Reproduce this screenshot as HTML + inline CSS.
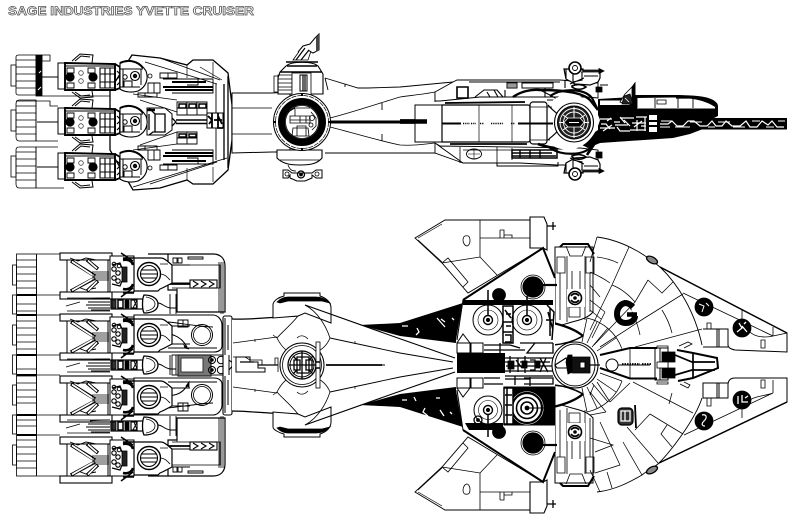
<!DOCTYPE html>
<html><head><meta charset="utf-8"><title>Sage Industries Yvette Cruiser</title>
<style>html,body{margin:0;padding:0;background:#fff}svg{display:block}</style></head>
<body>
<svg xmlns="http://www.w3.org/2000/svg" width="800" height="518" viewBox="0 0 800 518">
<defs>
<!-- top view engine module, centre y=0 -->
<g id="tm">
<rect x="58" y="-14" width="7" height="26" fill="#fff" stroke-width="1"/>
<path d="M65 -14L115 -13V13H65Z" fill="#fff" stroke-width="1.900"/>
<path d="M65 -11H115" stroke-width="1"/>
<path d="M67 -9h7v5h-7zM88 -9h7v5h-7zM67 6h7v5h-7zM88 6h7v5h-7z" stroke-width=".9"/>
<circle cx="70" cy="0" r="4.200" fill="#000"/><circle cx="93" cy="0" r="4.200" fill="#000"/>
<circle cx="81" cy="-4" r="2.300" stroke="#444"/><circle cx="81" cy="4" r="2.300" stroke="#444"/>
<path d="M72 -16L80 -23L93 -22L92 -14M75 -16L81 -21L90 -20M72 15L80 21L93 20L92 14M75 15L81 19L90 18" stroke-width="1"/>
<path d="M100 -9h15v20h-15zM105 -9v20M110 -9v20M100 -3h15M100 5h15" stroke-width="1.100"/>
<path d="M115 -13L120 -10V11L115 13" stroke-width="1.800"/>
<path d="M117 -6L121 -2L117 2M117 8L121 4" stroke-width="1.200"/>
<path d="M120 -14C128 -18 140 -16 146 -6C149 2 146 10 138 14C132 16 124 15 120 12Z" fill="#fff" stroke-width="1.100"/>
<path d="M120 -14C128 -18 138 -16 143 -9" stroke-width="2"/>
<path d="M120 -8H143M120 10H140M123 -8V10M141 -8V8" stroke-width="1"/>
<circle cx="135" cy="-1" r="4.500" stroke-width="1.100"/>
<circle cx="135" cy="-1" r="1.800" fill="#111"/>
<circle cx="125" cy="0" r="2.200" stroke-width="1"/>
<path d="M124 4H132V10H124Z" stroke-width="1"/>
</g>
<!-- bottom view big module, centre y=0 -->
<g id="bm">
<rect x="60" y="-20" width="52" height="7" fill="#fff" stroke-width="1.100"/>
<rect x="60" y="19" width="52" height="7" fill="#fff" stroke-width="1.100"/>
<path d="M67 -13H108V19H67Z" fill="#fff" stroke-width="1"/>
<path d="M70 -15L78 -12L86 -15L96 -13M70 17L78 14L86 17L96 15" stroke-width=".9"/>
<path d="M71 -12L95 3M71 18L95 5M87 -13L98 -4M87 18L98 8" stroke="#000" stroke-width="3.400"/>
<path d="M72 -11.500L94 3M72 17.500L94 5M88 -12.500L97 -4.500M88 17.500L97 8.500" stroke="#fff" stroke-width="1.700"/>
<path d="M92 -1H109M92 1H109M92 3H109M92 5H109M92 7H109" stroke-width=".7"/>
<rect x="110" y="-17" width="24" height="36" fill="#fff" stroke-width="1"/>
<path d="M121 -20L133 -12M121 24L133 15M123 -15H134M123 20H134" stroke-width="1.500"/>
<rect x="122" y="-6" width="5" height="15" fill="#222"/>
<path d="M112 -8L120 -10L122 -5M112 11L120 13L122 8" stroke-width="1.200"/>
<circle cx="114" cy="-4" r="2.200" stroke-width="1.100"/><circle cx="118" cy="0" r="2.200" stroke-width="1.100"/><circle cx="114" cy="5" r="2.200" stroke-width="1.100"/><circle cx="118" cy="8" r="2.200" stroke-width="1.100"/><circle cx="114" cy="-9" r="1.800" stroke-width="1"/><circle cx="119" cy="-7" r="1.800" stroke-width="1"/>
<path d="M123 -13C128 -14 132 -12 133 -8M123 16C128 17 132 15 133 11" stroke-width="2.600"/>
<path d="M134 -15H161C165 -15 168 -11 172 -8V10C168 12 165 14 160 16L158 18H134Z" fill="#fff" stroke-width="1.200"/>
<path d="M172 -8H190M172 10H190" stroke-width=".9"/>
<circle cx="149" cy="1" r="11.500" stroke-width="1.400"/>
<circle cx="149" cy="1" r="8.500" stroke-width="1.100"/>
<path d="M141.500 -3H156.500M140.500 1H157.500M141.500 5H156.500" stroke-width=".9"/>
<path d="M160 -9H168M160 1C165 1 167 4 170 7" stroke-width=".8"/>
</g>
<!-- bottom view narrow module, centre y=0 -->
<g id="sm">
<path d="M67 -6H110M67 7H110" stroke-width=".8"/>
<path d="M90 -5C96 -6 102 -6 110 -6M88 -2H110M86 1H110M88 4H110M91 6H110" stroke-width=".9"/>
<path d="M80 -2L66 2" stroke-width=".7"/>
<rect x="111" y="-5" width="36" height="10" fill="#fff" stroke-width="1.200"/>
<rect x="112" y="-4" width="4" height="8" fill="#333"/>
<rect x="118" y="-4" width="5" height="8" stroke-width="1.500"/>
<rect x="125" y="-4" width="4" height="8" fill="#000"/>
<rect x="131" y="-4" width="6" height="8" stroke-width="1.200"/>
<path d="M134 -4L137 4M133 4L137 -4" stroke-width=".9"/>
<path d="M144 -9C154 -9 158 -4 158 0C158 5 154 9 144 9C142 5 142 -5 144 -9Z" fill="#fff" stroke-width="1.300"/>
<path d="M146 -7C152 -6 155 -3 155 0C155 3 152 6 146 7" stroke-width=".8"/>
<path d="M158 -1C162 -1 164 3 170 4" stroke-width=".9"/>
<path d="M170 -10V10M176 -10V10M170 4H176" stroke-width=".9"/>
</g>
<!-- upper half of bottom-view forward section -->
<g id="half">
<!-- mid panel -->
<path d="M555 247H593V312C588 318 580 320 572 322L555 327Z" fill="#fff" stroke-width="1"/>
<path d="M560 247L563 244H588L594 254" stroke-width="2"/>
<path d="M566 246L570 256H582L586 246" stroke-width=".8"/>
<path d="M557 257H565V273H557ZM586 257H594V273H586ZM560 273V320M567 256V322M572 271V290M580 271V290M585 256V320M590 273V312" stroke-width=".8"/>
<path d="M569 307H580V317H569Z" stroke-width=".8"/>
<rect x="567" y="289" width="18" height="18" fill="#fff" stroke="none"/>
<circle cx="575" cy="298" r="6.500" stroke-width="1.600"/>
<path d="M571 296C573 293 577 293 579 296M579 300C577 303 573 303 571 300" stroke-width="1.800"/>
<circle cx="575" cy="298" r="1.400" fill="#000"/>
<!-- wedge on hull -->
<path d="M553 323C566 326 576 330 583 336C576 340 565 344 553 346Z" fill="#fff" stroke="none"/>
<path d="M553 323C566 326 576 330 583 336" stroke-width="2.400"/>
<path d="M553 345C566 344 576 340 583 336" stroke-width="1.400"/>
<!-- rear wing -->
<path d="M415 238L445 220H530V247L543 248L468 293L442 263Z" fill="#fff" stroke-width=".9"/>
<path d="M418 238L442 224M418 240L442 262" stroke-width=".7"/>
<path d="M480 220V257M480 238H530M442 263L480 257L497 275M442 263L448 258L468 282L463 287" stroke-width=".8"/>
<path d="M465 236C469 235 470 237 470 241C470 244 468 246 467 246C465 246 463 243 463 240C463 238 464 236 465 236Z"/>
<path d="M500 230V238M500 230H504V238M504 235H512V238" stroke-width=".8"/>
<path d="M530 217H544L547 224V250L543 248H530Z" fill="#fff" stroke-width="1.100"/>
<path d="M547 226H556M553 222V230" stroke-width="1.300"/>
<!-- central hexagon top -->
<path d="M463 300L543 248L555 278V365H458V355L456 340Z" fill="#fff" stroke="none"/>
<path d="M463 300L543 248L555 278" stroke-width="2"/>
<path d="M463 300L457 340" stroke-width="1"/>
<circle cx="533" cy="287" r="12" fill="#fff" stroke-width=".8"/>
<circle cx="533" cy="287" r="10.200" fill="#000"/>
<path d="M543 285H557" stroke-width="2.200"/>
</g>
</defs>
<rect width="800" height="518" fill="#fff"/>

<text x="8" y="15" font-family="'Liberation Sans',sans-serif" font-size="11.500" font-weight="bold" fill="#fff" stroke="#555" stroke-width=".7" textLength="246" lengthAdjust="spacingAndGlyphs">SAGE INDUSTRIES YVETTE CRUISER</text>

<g fill="none" stroke="#000" stroke-width=".8">

<!-- ============ TOP VIEW ============ -->
<g stroke-width=".8">
<path d="M16 57C16 56 17 55 19 55H36V95H18C17 95 16 94 16 93ZM16 60H36M16 67H36M16 74H36M16 81H36M16 88H36"/>
<rect x="11" y="65" width="5" height="21"/>
<rect x="36" y="55" width="6" height="41" fill="#000"/>
<path d="M39 73L41 71M38 90L41 87" stroke="#fff" stroke-width="1"/>
<path d="M19 100H36V141H19C17 141 16 139 16 137V104C16 102 17 100 19 100ZM16 106H36M16 113H36M16 120H36M16 127H36M16 134H36"/>
<rect x="11" y="110" width="5" height="21"/>
<path d="M36 100V141M16 101H50V106H58M36 141H58"/>
<path d="M19 147H36V188H19C17 188 16 186 16 184V150C16 148 17 147 19 147ZM16 152H36M16 159H36M16 166H36M16 173H36M16 180H36"/>
<rect x="11" y="156" width="5" height="21"/>
<path d="M36 147V188"/>
<path d="M42 55H50V61H42ZM42 96H120M36 147H58M36 188H64"/>
<path d="M42 77H58M37 122H58M37 167H58" stroke-width="1.100"/>
</g>
<!-- hull back -->
<path d="M132 55L160 58L187 65L193 60H213L228 73L232 105V140L228 170L213 184H193L187 180L160 188L133 190L110 150V90Z" fill="#fff" stroke-width="1.300"/>
<path d="M160 58L220 80M145 62L217 84M133 187L227 158M150 184L217 162" stroke-width=".9"/>
<path d="M187 65V78M213 62V78M187 180V168M213 182V167M200 67L222 80" stroke-width=".7"/>
<path d="M224 84V160M228 76V168" stroke-width="1.300"/>
<path d="M216 84V160" stroke-width=".9"/>
<!-- top module details -->
<path d="M148 83H160V93H148ZM154 83V93M160 73H177V78H160ZM168 73V78M163 79H213V93H172M187 79H198V85H187M138 93H157V97H138ZM145 93V97" stroke-width=".9"/>
<path d="M163 87H213M165 90H213M172 82H206" stroke-width="1.900"/>
<circle cx="150" cy="76" r="2"/>
<path d="M148 150H160V160H148ZM154 150V160M160 165H177V170H160ZM168 165V170M163 164H213V150H172M187 158H198V164H187M138 146H157V150H138ZM145 146V150" stroke-width=".9"/>
<path d="M163 156H213M165 153H213M172 161H206" stroke-width="1.900"/>
<circle cx="150" cy="168" r="2"/>
<!-- middle hull details -->
<path d="M177 102H207V115H177ZM187 102V115M197 102V115M177 108H207" stroke-width=".9"/>
<path d="M179 104H186V108H179ZM189 104H196V108H189ZM199 104H206V108H199Z" stroke-width="1.500"/>
<path d="M177 132H197V144H177ZM187 132V144M177 138H197" stroke-width=".9"/>
<path d="M179 134H186V137H179ZM189 134H196V137H189Z" stroke-width="1.400"/>
<path d="M147 108H165L172 114V130L165 135H147Z" fill="#fff" stroke-width="1"/>
<path d="M149 108L155 114H165V132H153L149 135M155 114V132M149 114V130M172 118L176 122L172 126" stroke-width="1.300"/>
<path d="M147 110H155" stroke-width="2.400"/>
<path d="M176 120H207M176 123.500H207" stroke-width="1.500"/>
<rect x="207" y="113" width="16" height="15" fill="#fff" stroke-width="1"/>
<path d="M208 116L212 120L209 124M212 113V128M218 113V128H223M214 120H222M218 116L222 124" stroke-width="1.800"/>
<path d="M140 100L177 112M140 145L177 132" stroke-width=".7"/>
<path d="M133 94L177 100M133 150L177 144" stroke-width=".7"/>
<use href="#tm" y="77"/><use href="#tm" y="122"/><use href="#tm" y="167"/>

<!-- fuselage -->
<path d="M232 93H272L290 92V152H272L232 153Z" fill="#fff" stroke-width="1"/>
<path d="M232 108H272M232 134H272" stroke-width=".8"/>
<path d="M330 118C350 113 380 103 400 97C415 95 425 94 435 92" stroke-width=".8"/>
<path d="M330 127C350 132 380 141 400 145C415 146 425 144 435 143" stroke-width=".8"/>
<path d="M325 78L358 88H368L400 87L453 82M435 92V102M435 143V153L463 163M325 153H400L435 153M328 90L325 78M345 84V87M382 103V110M382 141V134" stroke-width=".9"/>
<path d="M330 122H400" stroke-width="3"/>
<path d="M400 121.500H427" stroke-width="4.500"/>
<!-- dorsal dome & dish -->
<path d="M280 72L286 66C292 61 312 61 318 66L323 74V94H278V78Z" fill="#fff" stroke-width="1.100"/>
<path d="M280 72H322M287 66H317M286 62H318" stroke-width="1.400"/>
<path d="M278 75H292V90H278ZM274 76H278V92H274ZM278 79H292M278 83H292M278 87H292" stroke-width=".8"/>
<rect x="292" y="73" width="19" height="22" fill="#fff" stroke-width=".8"/>
<rect x="300" y="75" width="7" height="16" stroke-width="1"/>
<path d="M303 75V91M305 75V91" stroke-width="1.200"/>
<path d="M293 60L303 46L312 48L308 60H300Z" fill="#fff"/>
<path d="M298 52L303 46L310 44L315 38L319 34V50L313 53L308 50" fill="#fff" stroke-width="1"/>
<path d="M296 60L305 48M301 60L309 50" stroke-width="1.200"/>
<path d="M316 38L319 34V50L316 52Z" fill="#444" stroke="none"/>
<!-- ventral turret -->
<path d="M277 150H322V158C318 163 312 165 300 165C288 165 282 163 277 158Z" fill="#fff" stroke-width="1.100"/>
<path d="M280 160H320M288 165C290 170 292 171 296 171" stroke-width=".8"/>
<path d="M283 170H288L292 173H312L316 170H322V178H316L312 175V178L305 181H297L290 178V175L288 178H283Z" fill="#fff" stroke-width="1"/>
<circle cx="301" cy="174.500" r="3.500" stroke-width="1.300"/>
<circle cx="301" cy="174.500" r="1.500" fill="#000"/>
<circle cx="287" cy="174" r="2"/><circle cx="317" cy="174" r="2"/>
<!-- main ring -->
<circle cx="302" cy="122" r="28.500" fill="#fff" stroke-width="1"/>
<circle cx="302" cy="122" r="26.500" stroke-width=".7" stroke-dasharray="5 1"/>
<circle cx="302" cy="122" r="20.500" stroke-width="7"/>
<circle cx="302" cy="122" r="16.500" fill="#fff" stroke-width=".8"/>
<path d="M290 116H310V123H290ZM293 128H308L309 136H292ZM296 108H310M288 112L295 108M311 112L316 118L316 126L312 130M297 126H306V136H297ZM300 116V123M306 116V123M290 120H310M295 106V116" stroke-width=".8"/>
<circle cx="312" cy="118" r="2.500"/><circle cx="311" cy="125" r="2"/>
<path d="M302 94V96M302 148V150M274 122H276M328 122H330" stroke-width="2"/>

<!-- main central body -->
<rect x="415" y="105" width="27" height="37" fill="#fff" stroke-width="1"/>
<path d="M400 121.500H427" stroke-width="4.500"/>
<path d="M442 105H528C530 105 530 107 530 107V140C530 142 528 142 528 142H442Z" fill="#fff" stroke-width="1.200"/>
<path d="M479 105V142M512 105V142" stroke-width=".7"/>
<path d="M445 103L525 102M450 144L527 144" stroke-width="1.800"/>
<rect x="530" y="102" width="17" height="42" rx="3" fill="#fff" stroke-width="1.200"/>
<path d="M530 107H552M530 140H550" stroke-width=".8"/>
<path d="M442 123.500H461M518 123.500H555" stroke-width="2"/>
<path d="M463 123.500H470M471 123.500H476M480 123.500H484M491 123.500H503M511 123.500H515" stroke-width="1.600" stroke-dasharray="1 .8"/>
<!-- upper structure -->
<path d="M435 92L453 82L457 80H560L598 83V98L587 97H480L440 101H435Z" fill="#fff" stroke-width=".9"/>
<path d="M457 87H468V98H457Z" stroke-width="1.600"/>
<path d="M507 83H517V88H507ZM522 83H553V88H522Z" stroke-width="1"/>
<path d="M507 83H517V88H507Z" fill="#999"/>
<path d="M475 97L484 90H497L503 97M487 92L490 97M494 90L498 97M505 90V97M545 88V97M565 88V80M469 82H560" stroke-width="1.100"/>
<path d="M513 97C520 92 530 89 540 90C560 90 582 92 590 100L598 110" stroke-width="2.400"/>
<path d="M540 90C550 95 560 100 565 106M547 100H565" stroke-width="1"/>
<!-- lower structure -->
<path d="M435 143L463 163H520L557 165H598V150L580 148L440 146Z" fill="#fff" stroke-width=".9"/>
<path d="M460 147V163M463 150H512M497 147V163M512 148V160" stroke-width=".8"/>
<ellipse cx="474" cy="154" rx="7.500" ry="5" stroke-width=".9"/>
<path d="M468 154H480M474 149V159" stroke-width=".6"/>
<path d="M512 150H557V158H512Z" stroke-width="1.500"/>
<path d="M512 153H552M512 156H556M520 150V158M530 150V158M540 150V158" stroke-width="1.400"/>
<path d="M497 163V166H558V162" stroke-width="1"/>
<path d="M538 144C560 152 575 148 598 138M587 155C590 150 594 145 598 138" stroke-width="2.600"/>
<!-- front turrets -->
<path d="M564 69H583V71H600V78L598 82L590 85L575 84L566 79Z" fill="#fff" stroke-width="1.200"/>
<path d="M566 69V79M573 69V82L582 80V72M584 76H598M570 84L584 78" stroke-width="1.100"/>
<circle cx="575" cy="68" r="6" fill="#fff" stroke-width="1.600"/>
<circle cx="575" cy="68" r="2.500" stroke-width=".9"/>
<path d="M581 70H599M581 72H599" stroke-width=".8"/>
<path d="M599 68.500L604 71L599 73.500Z" fill="#000"/>
<path d="M572 86C576 84 582 84 586 87C582 90 576 90 572 87Z" stroke-width="1.600"/>
<path d="M596 87H602V92H596Z" fill="#000"/><path d="M600 85H608" stroke-width="1"/>
<path d="M564 173H583V171H600V164L598 160L590 157L575 158L566 163Z" fill="#fff" stroke-width="1.200"/>
<path d="M566 173V163M573 173V160L582 162V170M584 166H598M570 158L584 164" stroke-width="1.100"/>
<circle cx="575" cy="174" r="6" fill="#fff" stroke-width="1.600"/>
<circle cx="575" cy="174" r="2.500" stroke-width=".9"/>
<path d="M581 170H599M581 172H599" stroke-width=".8"/>
<path d="M599 168.500L604 171L599 173.500Z" fill="#000"/>
<path d="M572 156C576 154 582 154 586 157C582 160 576 160 572 157Z" stroke-width="1.600"/>
<path d="M596 152H602V158H596Z" fill="#000"/>
<!-- nose -->
<path d="M598 99L633 97L633 95H673C690 95 705 96 711 99C716 101 718 104 718 106V116L712 119L703 129L690 134L673 138L600 143L588 148L578 143L598 130Z" fill="#000" stroke="none"/>
<path d="M600 100.500H622L630 105H600ZM637 98L672 97.500C690 97.500 705 100 715 107L715 108.500H637Z" fill="#fff" stroke="none"/>
<path d="M637 98V108M655 98V108M678 98V108M693 98.500V108" stroke-width=".9"/>
<path d="M657 100H666V104H657Z" stroke-width=".8"/>
<path d="M676 98H700" stroke-width="1.300"/>
<!-- fin -->
<path d="M620 102L625 94L633 86L635 83V104H625Z" fill="#fff"/>
<path d="M632 87L635 83V104H632Z" fill="#000"/>
<path d="M622 104L624 96L630 94L633 104Z" fill="#222"/>
<path d="M625 98L629 102" stroke="#fff"/>
<!-- white details on nose -->
<path d="M600 119H612M614 122H620M620 118H634M636 117H647M600 128H615M615 125H628M632 123H646M603 131L612 125M620 117L625 123M630 130H646M637 120V131M645 117V131M601 124H606L610 129M617 127L620 131H630M624 120L630 126M607 121L611 118M634 127L642 121M641 126H646" stroke="#fff" stroke-width="1.200"/>
<path d="M649 115H657V120H649ZM649 127H657V132H649ZM649 122H657V125H649Z" fill="#fff" stroke="none"/>
<!-- barrel -->
<rect x="658" y="118" width="129" height="11.500" fill="#000" stroke="none"/>
<path d="M660 124H668L672 121L677 126H683L688 121H694L700 126H707L712 121L716 126H722L726 121L732 126H740L746 121L750 127H757L762 121L768 125L772 121L777 127H784" stroke="#fff" stroke-width="1.200"/>
<path d="M661 121H672M690 122H702M718 122H730M752 121H760M675 127H690M708 127H715M733 127H745M660 127H670M766 127H774M778 121H785" stroke="#fff" stroke-width="1"/>
<!-- front disc -->
<path d="M553 100C570 88 592 96 600 120C592 148 570 155 553 146Z" fill="#fff" stroke="none"/>
<path d="M550 96C562 88 584 88 592 98L598 110" stroke-width="2.200"/>
<path d="M550 148C562 156 584 156 592 146L598 134" stroke-width="2.200"/>
<path d="M548 105C552 110 556 112 558 115M548 140C552 136 556 134 558 130" stroke-width="1.200"/>
<circle cx="574" cy="122.500" r="19.500" fill="#fff" stroke-width="1.100"/>
<circle cx="574" cy="122.500" r="16.500" fill="#222" stroke-width="1"/>
<circle cx="574" cy="122.500" r="14" stroke="#fff" stroke-width=".9"/>
<circle cx="574" cy="122.500" r="10.500" stroke="#fff" stroke-width=".9"/>
<path d="M563 115L585 130M585 115L563 130M574 107V138M559 122.500H589" stroke="#fff" stroke-width="1"/>
<path d="M568 118H580L584 122.500L580 127H568L564 122.500Z" fill="#000" stroke="#fff" stroke-width=".7"/>
<path d="M569 122.500H579" stroke="#fff" stroke-width="1"/>

<!-- ============ BOTTOM VIEW ============ -->
<g stroke-width=".8">
<rect x="16.500" y="254" width="20" height="222" fill="#fff"/>
<path d="M16 260H36M16 267H36M16 274H36M16 281H36M16 288H36M16 304H36M16 311H36M16 321H36M16 328H36M16 335H36M16 342H36M16 349H36M16 369H36M16 376H36M16 383H36M16 390H36M16 397H36M16 403H36M16 420H36M16 426H36M16 440H36M16 447H36M16 454H36M16 461H36M16 468H36"/>
<path d="M17 295H36M17 315H36M17 355H36M17 375H36M17 415H36M17 435H36" stroke-width="2"/>
<rect x="12.500" y="265" width="4" height="20"/><rect x="12.500" y="295" width="4" height="19"/>
<rect x="12.500" y="325" width="4" height="20"/><rect x="12.500" y="355" width="4" height="19"/>
<rect x="12.500" y="385" width="4" height="20"/><rect x="12.500" y="415" width="4" height="19"/>
<rect x="12.500" y="445" width="4" height="20"/>
<path d="M36.500 254V476M37 254H60M37 295H60M37 315H60M37 355H60M37 375H60M37 415H60M37 435H60M37 476H60"/>
</g>
<!-- big module extension bodies -->
<path d="M148 254H213C220 254 225 258 225 266V312H177V290H168V254Z" fill="#fff" stroke-width="1.200"/>
<path d="M172 265H220V288H172M177 288V312M219 262V312M221 262V314M223 262V314" stroke-width=".8"/>
<path d="M173 258H177V263H173ZM178 258H182V263H178ZM188 257H203V259H188Z" stroke-width=".9"/>
<rect x="190" y="280" width="27" height="8" stroke-width="1.100"/>
<path d="M193 281L198 284L193 287M201 281L206 284L201 287M209 281L214 284L209 287" stroke-width="1.100"/>
<path d="M168 284H190" stroke-width="1.700"/>
<path d="M148 476H213C220 476 225 472 225 464V418H177V440H168V476Z" fill="#fff" stroke-width="1.200"/>
<path d="M172 465H220V442H172M177 442V418M219 468V418M221 468V416M223 468V416" stroke-width=".8"/>
<path d="M173 467H177V472H173ZM178 467H182V472H178ZM188 471H203V473H188Z" stroke-width=".9"/>
<rect x="190" y="442" width="27" height="8" stroke-width="1.100"/>
<path d="M193 443L198 446L193 449M201 443L206 446L201 449M209 443L214 446L209 449" stroke-width="1.100"/>
<path d="M168 446H190" stroke-width="1.700"/>
<!-- mid bodies -->
<path d="M134 315H213C218 315 222 320 222 325V346C222 350 218 352 214 352H134Z" fill="#fff" stroke-width="1.100"/>
<path d="M168 322C180 323 195 326 213 327M178 320H188V327H178ZM183 320V327M168 348H217" stroke-width=".9"/>
<circle cx="202" cy="335" r="10.500" stroke-width="1"/><circle cx="202" cy="335" r="8.500"/>
<path d="M160 334C168 333 180 334 187 347" stroke-width="1.100"/>
<path d="M184 345L189 349L185 348Z" fill="#000"/>
<path d="M134 378H214C218 378 222 380 222 384V405C222 410 218 415 213 415H134Z" fill="#fff" stroke-width="1.100"/>
<path d="M168 408C180 407 195 404 213 403M178 403H188V411H178ZM183 403V411M168 382H217" stroke-width=".9"/>
<circle cx="202" cy="395" r="10.500" stroke-width="1"/><circle cx="202" cy="395" r="8.500"/>
<path d="M160 396C172 396 182 396 188 384" stroke-width="1.100"/>
<path d="M186 386L189 382L189 387Z" fill="#000"/>
<!-- centre panel -->
<rect x="172" y="355" width="56" height="20" fill="#fff" stroke-width=".9"/>
<rect x="178" y="355" width="33" height="21" fill="#777" stroke="#222" stroke-width="1.200"/>
<rect x="181" y="358" width="22" height="14" fill="#fff" stroke="#333" stroke-width="1"/>
<circle cx="212" cy="360" r="3.500" stroke-width="1"/><circle cx="212" cy="370" r="3.500" stroke-width="1"/>
<circle cx="221" cy="360" r="3.700" stroke-width="1"/><circle cx="221" cy="370" r="3.700" stroke-width="1"/>
<circle cx="212" cy="360" r="1.300" fill="#000"/><circle cx="212" cy="370" r="1.300" fill="#000"/>
<use href="#bm" y="273"/><use href="#bm" y="334"/><use href="#bm" y="396"/><use href="#bm" y="457"/>
<use href="#sm" y="304"/><use href="#sm" y="365"/><use href="#sm" y="426"/>
<rect x="223" y="316" width="9" height="99" rx="2" fill="#fff" stroke-width="1.100"/>
<path d="M225 318V355M228 325V350M225 376V413M228 380V405" stroke-width="1"/>
<path d="M229 355V375M229 360L234 364L229 370" stroke-width="1"/>

<!-- hull -->
<path d="M232 319H260L298 316L305 305L395 337L455 358V372L395 393L305 425L298 414L260 411L232 411Z" fill="#fff" stroke="none"/>
<path d="M232 319C250 320 270 317 298 316M232 411C250 411 270 414 298 414" stroke-width="1.200"/>
<path d="M233 343L277 337M233 387L277 393M233 357H245L250 360H262V365H275V358H278V372" stroke-width=".8"/>
<path d="M236 357H250V362H258V368H265V372H236Z" stroke-width="1"/>
<path d="M240 362H254M258 365H278" stroke-width="1.200"/>
<path d="M298 316C290 326 282 332 277 338C282 348 288 352 292 354M298 414C290 404 282 398 277 392C282 382 288 378 292 376" stroke-width=".8"/>
<path d="M277 338L273 335M277 392L273 395M255 339V342M255 389V392" stroke-width=".7"/>
<!-- cross hull sections -->
<path d="M273 305C273 300 280 297 284 296V293H320V296C326 298 331 302 331 308V323L305 313L298 316L273 318Z" fill="#fff" stroke-width="1"/>
<path d="M277 302C282 297 286 297 288 297H316C322 297 326 299 330 303L322 301H288L280 303Z" fill="#000"/>
<path d="M273 427C273 430 280 433 284 434V437H320V434C326 432 331 428 331 422V407L305 417L298 414L273 412Z" fill="#fff" stroke-width="1"/>
<path d="M277 428C282 433 286 433 288 433H316C322 433 326 431 330 427L322 429H288L280 427Z" fill="#000"/>
<path d="M305 305L395 337L455 358" stroke-width="1.100"/>
<path d="M305 425L395 393L455 372" stroke-width="1.100"/>
<path d="M305 305C318 312 326 326 330 338C326 348 318 352 312 354M305 425C318 418 326 404 330 392C326 382 318 378 312 376" stroke-width=".8"/>
<path d="M330 338L400 353L453 362M330 392L400 377L453 368" stroke-width=".9"/>
<path d="M355 341V344M355 389V386" stroke-width=".7"/>
<!-- black wedges -->
<path d="M360 325L400 323L463 303L456 343L400 336Z" fill="#000" stroke="none"/>
<path d="M360 405L400 407L463 427L456 387L400 394Z" fill="#000" stroke="none"/>
<g stroke="#fff" stroke-width="1.300">
<path d="M437 318L445 327M417 328L419 332L416 335M402 326H408M452 318L454 320M445 322L441 319"/>
<path d="M425 408L423 412L428 416M402 400H407M436 398H440M450 412L452 414M440 410L444 416M416 401L414 397"/>
</g>
<!-- tail centre -->
<circle cx="302" cy="365" r="22" fill="#fff" stroke-width="1"/>
<circle cx="302" cy="365" r="19.500" stroke-width=".8"/>
<circle cx="302" cy="365" r="14" stroke-width="1.300"/>
<circle cx="302" cy="365" r="12" stroke-width=".9"/>
<path d="M297 357H309V373H297ZM294 360H300V370H294ZM306 360H312V370H306ZM302 351V379M289 365H316M293 356L297 360M313 356L309 360M293 374L297 370M313 374L309 370" stroke-width="1.300"/>
<rect x="316" y="342" width="4" height="46" fill="#fff"/>
<path d="M316 362H320M316 368H320" stroke-width="1.500"/>
<path d="M326 365H382" stroke-width="1.800"/>
<path d="M382 365H385" stroke-width="1"/>
<path d="M297 338C300 335 304 335 308 339M297 392C300 395 304 395 308 391" stroke-width=".8"/>

<!-- forward section -->
<use href="#half"/>
<use href="#half" transform="matrix(1 0 0 -1 0 730)"/>

<!-- fan disc, upper -->
<path d="M597 237C620 240 642 252 660 267C678 284 695 312 702 345" stroke-width=".9"/>
<path d="M660 267L787 333V352L735 350C730 349 728 347 728 345V329H703M728 347H703M717 329V347M719 329V347" stroke-width="1"/>
<path d="M660 267L787 333" stroke-width="1.400"/>
<path d="M683 293L773 336M773 327V336L787 333M750 332C755 337 765 338 773 336M742 310V320M707 329V323H711V329" stroke-width=".8"/>
<path d="M761 340H765V348H761Z" stroke-width=".8"/>
<path d="M597 237L590 262M629 247L612 285L590 330M597 257C605 258 612 260 618 263M590 272C597 275 603 278 610 283M612 285C620 288 628 294 635 302M648 280L662 293L673 282M648 280L635 302L594 345M683 294L643 319L600 347M662 310C667 318 670 325 672 333M702 329L635 347M627 302C633 312 638 325 640 335M590 300L605 312M590 310L601 319M605 312L592 338M590 285L600 297" stroke-width=".75"/>
<!-- short radials round the cockpit, upper -->
<path d="M600 357L622 349M597 351L616 338M592 347L608 328M587 343L597 322M582 342L587 318M587 318A48 48 0 0 1 622 349" stroke-width=".75"/>
<circle cx="704" cy="307" r="9" fill="#000"/>
<path d="M699 304L704 306L702 312M706 303L709 306" stroke="#fff" stroke-width="1"/>
<circle cx="742" cy="328" r="9" fill="#000"/>
<path d="M739 323L742 328L737 332M742 326L747 332M744 324L746 322" stroke="#fff" stroke-width="1.300"/>
<ellipse cx="652" cy="260" rx="6" ry="3" transform="rotate(28 652 260)" fill="#888" stroke-width="1.300"/>
<!-- fan disc, lower -->
<path d="M597 492C615 490 630 482 642 475C648 470 655 467 659 463C670 452 695 420 702 398" stroke-width=".9"/>
<path d="M659 463L787 402V378L735 378C730 378 728 381 728 385V398H703V383H728M717 383V398M719 383V398" stroke-width="1"/>
<path d="M659 463L787 402" stroke-width="1.400"/>
<path d="M684 435L773 393M773 393V380M750 400C755 396 765 396 773 393M742 400V418M707 398V406H711V398" stroke-width=".8"/>
<path d="M761 380H765V388H761Z" stroke-width=".8"/>
<path d="M633 382L693 413M672 393L669 404M650 414L683 434M650 414L635 430M627 427L658 463M667 425L661 434L672 447M623 442L642 475M600 422L620 465L595 473M607 472L612 488M590 438L613 445L595 452M597 382L610 402M590 392L606 412M610 402L630 383M590 415L606 412M594 385L590 395M600 492L590 470" stroke-width=".75"/>
<!-- short radials round the cockpit, lower -->
<path d="M600 373L622 381M597 379L616 392M592 383L608 402M587 387L597 408M582 388L587 412M622 381A48 48 0 0 1 587 412" stroke-width=".75"/>
<circle cx="704" cy="421" r="9" fill="#000"/>
<path d="M702 415C706 414 708 417 704 421C701 424 702 426 705 426" stroke="#fff" stroke-width="1.200"/>
<circle cx="742" cy="400" r="9" fill="#000"/>
<path d="M738 396V404M742 395V402L748 402M745 398L748 396" stroke="#fff" stroke-width="1.300"/>
<ellipse cx="652" cy="470" rx="6" ry="3" transform="rotate(-28 652 470)" fill="#888" stroke-width="1.300"/>

<path d="M463 300V305H553V300Z" fill="#000" stroke="none"/>
<circle cx="499" cy="295" r="6.500" fill="#000"/>
<path d="M465 423H503V430H469Z" fill="#000" stroke="none"/>
<circle cx="499" cy="432" r="6.500" fill="#000"/>
<!-- fans -->
<g>
<circle cx="488" cy="320" r="15" fill="#fff" stroke-width="1"/><circle cx="488" cy="320" r="10" stroke-width=".6"/><circle cx="488" cy="320" r="4.500" stroke-width="1.400"/><circle cx="488" cy="320" r="1.700" fill="#000"/>
<circle cx="527" cy="320" r="15" fill="#fff" stroke-width="1"/><circle cx="527" cy="320" r="10" stroke-width=".6"/><circle cx="527" cy="320" r="4.500" stroke-width="1.400"/><circle cx="527" cy="320" r="1.700" fill="#000"/>
<circle cx="488" cy="410" r="14" fill="#fff" stroke-width="1"/><circle cx="488" cy="410" r="9.500" stroke-width=".6"/><circle cx="488" cy="410" r="4.500" stroke-width="1.400"/><circle cx="488" cy="410" r="1.700" fill="#000"/>
<path d="M488 290V315M527 296V315M488 415V437" stroke-width="1.500"/>
</g>
<!-- detail between fans -->
<path d="M503 306H513V343H503ZM505 310L511 318M503 322H513M503 332H513M505 335H511V342H505M506 314H511M506 326H511" stroke-width="1.500"/>
<path d="M547 305L554 312L552 340M548 312L553 330M550 308V336M546 320H554" stroke-width="1.500"/>
<!-- hull centre belt -->
<path d="M457 343H470V353H457ZM471 343H483V353H471ZM457 343L463 334L470 343M457 353V343" stroke-width="1"/>
<path d="M457 378H470V388H457ZM471 378H483V388H471ZM457 388L463 397L470 388" stroke-width="1"/>
<path d="M484 345H510M484 350H525M500 343V353M510 345L520 348M520 343H553M535 343L527 353H553V343" stroke-width="1.300"/>
<rect x="457" y="353" width="48" height="20" fill="#000" stroke="none"/>
<rect x="505" y="356" width="48" height="18" fill="#fff" stroke="none"/>
<path d="M505 358H553M505 362H512M505 371H553M510 356V373M516 360L522 368M525 356V373M530 360H535V370H530M540 358L548 372M546 358L540 372M518 358V372M506 366H553M520 362H550" stroke-width="1.300"/>
<rect x="508" y="361" width="6" height="8" fill="#000"/>
<rect x="522" y="361" width="5" height="7" fill="#000"/>
<rect x="536" y="361" width="4" height="7" fill="#000"/>
<path d="M484 378H500M484 384H503M505 376H553M505 379H530M530 377V386M515 376V385M524 378H553V384H524" stroke-width="1.300"/>
<!-- big dark fan -->
<rect x="504" y="387" width="51" height="38" fill="#000" stroke-width="1"/>
<circle cx="527" cy="408" r="17" fill="#fff"/>
<circle cx="527" cy="408" r="15" stroke-width="2.200"/>
<circle cx="527" cy="408" r="10.500" stroke-width="1.600"/>
<circle cx="527" cy="408" r="6" stroke-width="1.600"/>
<circle cx="527" cy="408" r="2" fill="#000"/>
<path d="M527 408H550" stroke-width="1"/>
<rect x="504" y="388" width="9" height="36" fill="#fff" stroke-width="1.500"/>
<path d="M505 395H512M505 405H512M505 415H512M507 388V424" stroke-width="1.500"/>
<circle cx="478" cy="420" r="4" stroke-width="1.300"/><circle cx="478" cy="420" r="1.500" fill="#000"/>
<!-- forward cockpit -->
<ellipse cx="575" cy="365" rx="23" ry="23" fill="#fff" stroke-width="1.100"/>
<ellipse cx="575" cy="365" rx="20" ry="21" stroke-width=".9"/>
<path d="M555 365L566 358L570 368H557Z" stroke-width="1.100"/>
<path d="M572 357H590V373H572L567 367Z" fill="#111"/>
<rect x="580" y="362" width="5" height="6" fill="#fff" stroke-width="1"/>
<path d="M566 362L568 355H572L572 372L568 374Z" fill="#000"/>
<path d="M590 365H607" stroke-width="1.200"/>
<!-- nose of forward section -->
<path d="M600 350L630 348L657 348L678 349L693 352L717 358L718 368L693 378L678 381L657 379L630 379L600 368Z" fill="#fff" stroke="none"/>
<path d="M600 355L630 348H657M600 368L630 378.500H657" stroke-width="2"/>
<path d="M630 349V378" stroke-width=".8"/>
<circle cx="612" cy="365" r="6" fill="#fff" stroke-width="1"/>
<path d="M618 365H650" stroke-width="1"/>
<path d="M622 364H640M642 364H652" stroke-dasharray="1.500 1" stroke-width="1.800"/>
<path d="M655 348H668V380H655ZM660 348V380" stroke-width="1"/>
<rect x="662" y="352" width="13" height="10" fill="#000"/>
<rect x="662" y="368" width="13" height="10" fill="#000"/>
<rect x="657" y="362" width="11" height="6" fill="#fff" stroke-width=".8"/>
<path d="M677 350L693 353L717 358L718 368L693 378L678 381" stroke-width="2"/>
<path d="M675 355L692 362H715M675 375L692 370H715M693 353V378" stroke-width="1.700"/>
<path d="M679 346L688 342L692 344L684 348M680 384L688 388L690 385L684 382" stroke-width=".8"/>
<path d="M657 346H668V348H657ZM657 382H668V384H657Z" stroke-width=".8"/>
<!-- G mark -->
<path d="M633 307C630 304 627 303 625 303C620 304 617 309 617 314C617 320 621 323 626 323C631 323 635 320 635 316" stroke-width="6"/>
<path d="M627 314.500H637" stroke-width="4.500"/>
<path d="M628 311H636" stroke="#fff" stroke-width="1.400"/>
<!-- lower mark -->
<rect x="618" y="408" width="15" height="17" rx="4" fill="#333" stroke-width="1.200"/>
<path d="M621 411H630V421H621ZM625 411V421" stroke="#fff" stroke-width="1.300"/>
<path d="M635 405L636 428" stroke-width="1.800"/>
</g>
</svg>
</body></html>
